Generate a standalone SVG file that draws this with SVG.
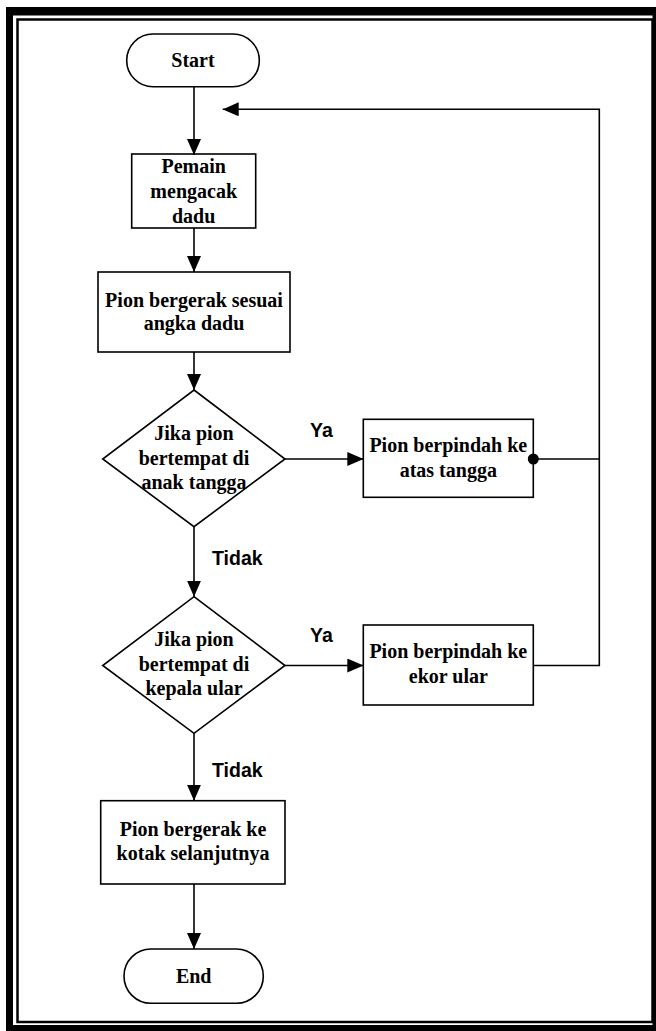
<svg xmlns="http://www.w3.org/2000/svg" width="656" height="1031" viewBox="0 0 656 1031">
  <style>
    .shape { fill: #fff; stroke: #000; stroke-width: 1.6; }
    .line { fill: none; stroke: #000; stroke-width: 1.6; }
    .lbl { font-family: "Liberation Serif", "Times New Roman", serif; font-weight: bold; font-size: 20px; text-anchor: middle; fill: #000; }
    .cond { font-family: "Liberation Sans", Arial, sans-serif; font-weight: bold; font-size: 19.5px; fill: #000; }
  </style>
  <defs>
    <marker id="arrow" viewBox="0 0 16 14" refX="16" refY="7" markerWidth="16" markerHeight="14" markerUnits="userSpaceOnUse" orient="auto">
      <path d="M0,0 L16,7 L0,14 Z" fill="#000"/>
    </marker>
  </defs>

  <rect width="656" height="1031" fill="#fff"/>

  <!-- page frame: thick outer border and thin inner rule -->
  <g id="frame">
    <rect x="6" y="7" width="650" height="8.5" fill="#000"/>
    <rect x="6" y="7" width="7" height="1024" fill="#000"/>
    <rect x="6" y="1025" width="650" height="6" fill="#000"/>
    <rect x="652.5" y="7" width="3.5" height="1024" fill="#000"/>
    <rect x="17.5" y="19.5" width="635" height="1002.5" fill="none" stroke="#000" stroke-width="2.5"/>
  </g>

  <g id="start">
    <rect class="shape" x="126.7" y="34" width="132.6" height="52.7" rx="26.3" ry="26.3"/>
    <text class="lbl" x="193" y="67.3">Start</text>
  </g>

  <g id="roll-dice">
    <rect class="shape" x="131.7" y="154" width="124" height="74"/>
    <text class="lbl" x="193.7" y="173">Pemain</text>
    <text class="lbl" x="193.7" y="198">mengacak</text>
    <text class="lbl" x="193.7" y="223">dadu</text>
  </g>

  <g id="move-pawn">
    <rect class="shape" x="98" y="272" width="192" height="80"/>
    <text class="lbl" x="194" y="306.7">Pion bergerak sesuai</text>
    <text class="lbl" x="194" y="330">angka dadu</text>
  </g>

  <g id="check-ladder">
    <polygon class="shape" points="194,390 285,459 194,526.7 102.7,459"/>
    <text class="lbl" x="194" y="440">Jika pion</text>
    <text class="lbl" x="194" y="464.5">bertempat di</text>
    <text class="lbl" x="194" y="489">anak tangga</text>
  </g>

  <g id="climb-ladder">
    <rect class="shape" x="363.3" y="419.3" width="170" height="78"/>
    <text class="lbl" x="448.3" y="451.7">Pion berpindah ke</text>
    <text class="lbl" x="448.3" y="476.7">atas tangga</text>
  </g>

  <g id="check-snake">
    <polygon class="shape" points="194,596.7 285,665.5 194,733.3 102.7,665.5"/>
    <text class="lbl" x="194" y="646">Jika pion</text>
    <text class="lbl" x="194" y="670.5">bertempat di</text>
    <text class="lbl" x="194" y="695">kepala ular</text>
  </g>

  <g id="slide-snake">
    <rect class="shape" x="363.3" y="625" width="170" height="80"/>
    <text class="lbl" x="448.3" y="658.4">Pion berpindah ke</text>
    <text class="lbl" x="448.3" y="683.4">ekor ular</text>
  </g>

  <g id="next-square">
    <rect class="shape" x="100.7" y="800.7" width="184.3" height="83.3"/>
    <text class="lbl" x="193" y="836">Pion bergerak ke</text>
    <text class="lbl" x="193" y="860">kotak selanjutnya</text>
  </g>

  <g id="end">
    <rect class="shape" x="124" y="949" width="139.3" height="54.3" rx="27" ry="27"/>
    <text class="lbl" x="193.7" y="982.7">End</text>
  </g>

  <g id="connectors">
    <line class="line" x1="194" y1="86.7" x2="194" y2="155" marker-end="url(#arrow)"/>
    <line class="line" x1="194" y1="228" x2="194" y2="272" marker-end="url(#arrow)"/>
    <line class="line" x1="194" y1="352" x2="194" y2="390" marker-end="url(#arrow)"/>
    <line class="line" x1="285" y1="459" x2="363.3" y2="459" marker-end="url(#arrow)"/>
    <line class="line" x1="194" y1="526.7" x2="194" y2="596.7" marker-end="url(#arrow)"/>
    <line class="line" x1="285" y1="665.5" x2="363.3" y2="665.5" marker-end="url(#arrow)"/>
    <line class="line" x1="194" y1="733.3" x2="194" y2="800.7" marker-end="url(#arrow)"/>
    <line class="line" x1="194" y1="884" x2="194" y2="949" marker-end="url(#arrow)"/>
    <!-- loop back to the dice roll -->
    <polyline class="line" points="533.3,459 599.3,459"/>
    <polyline class="line" points="533.3,665.5 599.3,665.5 599.3,109.3 222.7,109.3" marker-end="url(#arrow)"/>
    <circle cx="533.3" cy="459" r="5.5" fill="#000"/>
    <text class="cond" x="310" y="437">Ya</text>
    <text class="cond" x="212" y="565">Tidak</text>
    <text class="cond" x="310" y="641.7">Ya</text>
    <text class="cond" x="212" y="776.7">Tidak</text>
  </g>
</svg>
